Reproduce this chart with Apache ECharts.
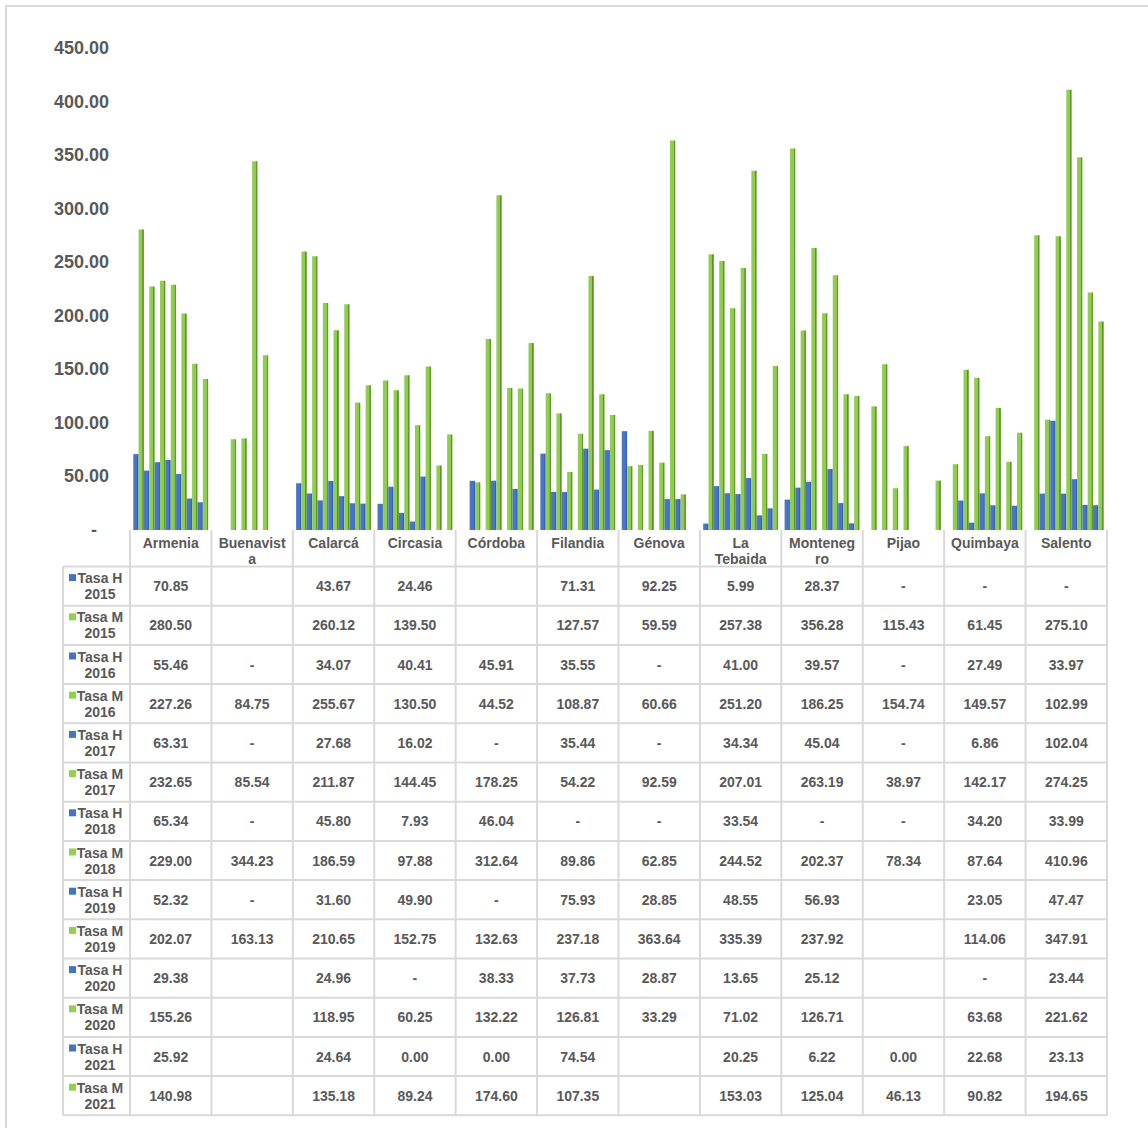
<!DOCTYPE html>
<html>
<head>
<meta charset="utf-8">
<script src="https://cdn.jsdelivr.net/npm/echarts@6/dist/echarts.min.js"></script>
<style>
  html, body { margin: 0; padding: 0; background: #fff; }
  #chart { width: 1148px; height: 1128px; }
</style>
</head>
<body>
<div id="chart"></div>
<script>
// municipios (eje x) y etiquetas tal como se cortan en la tabla
var municipios = ['Armenia', 'Buenavista', 'Calarcá', 'Circasia', 'Córdoba', 'Filandia', 'Génova', 'La Tebaida', 'Montenegro', 'Pijao', 'Quimbaya', 'Salento'];
var etiquetasTabla = ['Armenia', 'Buenavist\na', 'Calarcá', 'Circasia', 'Córdoba', 'Filandia', 'Génova', 'La\nTebaida', 'Monteneg\nro', 'Pijao', 'Quimbaya', 'Salento'];

// null = celda vacía, '-' = guion en la tabla
var tasaH2015 = [70.85, null, 43.67, 24.46, null, 71.31, 92.25, 5.99, 28.37, '-', '-', '-'];
var tasaM2015 = [280.50, null, 260.12, 139.50, null, 127.57, 59.59, 257.38, 356.28, 115.43, 61.45, 275.10];
var tasaH2016 = [55.46, '-', 34.07, 40.41, 45.91, 35.55, '-', 41.00, 39.57, '-', 27.49, 33.97];
var tasaM2016 = [227.26, 84.75, 255.67, 130.50, 44.52, 108.87, 60.66, 251.20, 186.25, 154.74, 149.57, 102.99];
var tasaH2017 = [63.31, '-', 27.68, 16.02, '-', 35.44, '-', 34.34, 45.04, '-', 6.86, 102.04];
var tasaM2017 = [232.65, 85.54, 211.87, 144.45, 178.25, 54.22, 92.59, 207.01, 263.19, 38.97, 142.17, 274.25];
var tasaH2018 = [65.34, '-', 45.80, 7.93, 46.04, '-', '-', 33.54, '-', '-', 34.20, 33.99];
var tasaM2018 = [229.00, 344.23, 186.59, 97.88, 312.64, 89.86, 62.85, 244.52, 202.37, 78.34, 87.64, 410.96];
var tasaH2019 = [52.32, '-', 31.60, 49.90, '-', 75.93, 28.85, 48.55, 56.93, null, 23.05, 47.47];
var tasaM2019 = [202.07, 163.13, 210.65, 152.75, 132.63, 237.18, 363.64, 335.39, 237.92, null, 114.06, 347.91];
var tasaH2020 = [29.38, null, 24.96, '-', 38.33, 37.73, 28.87, 13.65, 25.12, null, '-', 23.44];
var tasaM2020 = [155.26, null, 118.95, 60.25, 132.22, 126.81, 33.29, 71.02, 126.71, null, 63.68, 221.62];
var tasaH2021 = [25.92, null, 24.64, 0.00, 0.00, 74.54, null, 20.25, 6.22, 0.00, 22.68, 23.13];
var tasaM2021 = [140.98, null, 135.18, 89.24, 174.60, 107.35, null, 153.03, 125.04, 46.13, 90.82, 194.65];

var filas = [
  ['Tasa H 2015', 'H', tasaH2015], ['Tasa M 2015', 'M', tasaM2015],
  ['Tasa H 2016', 'H', tasaH2016], ['Tasa M 2016', 'M', tasaM2016],
  ['Tasa H 2017', 'H', tasaH2017], ['Tasa M 2017', 'M', tasaM2017],
  ['Tasa H 2018', 'H', tasaH2018], ['Tasa M 2018', 'M', tasaM2018],
  ['Tasa H 2019', 'H', tasaH2019], ['Tasa M 2019', 'M', tasaM2019],
  ['Tasa H 2020', 'H', tasaH2020], ['Tasa M 2020', 'M', tasaM2020],
  ['Tasa H 2021', 'H', tasaH2021], ['Tasa M 2021', 'M', tasaM2021]
];

var AZUL = '#4472c4';
var VERDE = '#92d050';
var GRIS = '#595959';
var LINEA = '#d9d9d9';
var FUENTE = '"Liberation Sans", Arial, sans-serif';

var chart = echarts.init(document.getElementById('chart'), null, { renderer: 'svg' });

function relleno(sexo) {
  if (sexo === 'H') {
    return new echarts.graphic.LinearGradient(0, 0, 1, 0, [
      { offset: 0, color: '#4a78cc' }, { offset: 0.74, color: '#4472c4' },
      { offset: 0.78, color: '#3a62a8' }, { offset: 1, color: '#3a62a8' }
    ]);
  }
  return new echarts.graphic.LinearGradient(0, 0, 1, 0, [
    { offset: 0, color: '#92d050' }, { offset: 0.7, color: '#8ccb4c' },
    { offset: 0.74, color: '#5f8f31' }, { offset: 1, color: '#6b9c3a' }
  ]);
}

var series = filas.map(function (f) {
  return {
    name: f[0],
    type: 'bar',
    barGap: '0%',
    barCategoryGap: '8%',
    itemStyle: { color: relleno(f[1]) },
    data: f[2]
  };
});

var option = {
  backgroundColor: '#fff',
  animation: false,
  grid: { left: 130, right: 41, top: 48, bottom: 598, containLabel: false },
  xAxis: {
    type: 'category',
    data: municipios,
    axisLine: { show: false },
    axisTick: { show: false },
    axisLabel: { show: false }
  },
  yAxis: {
    type: 'value',
    min: 0,
    max: 450,
    interval: 50,
    splitLine: { show: false },
    axisLine: { show: false },
    axisTick: { show: false },
    axisLabel: {
      margin: 21,
      color: GRIS,
      fontSize: 18,
      fontWeight: 'bold',
      fontFamily: FUENTE,
      formatter: function (v) { return v === 0 ? '{d|-}' : v.toFixed(2); },
      rich: { d: { padding: [0, 12, 0, 0], fontSize: 18, fontWeight: 'bold', color: GRIS, fontFamily: FUENTE } }
    }
  },
  series: series
};

chart.setOption(option);

// tabla de datos bajo el gráfico
var c0 = chart.convertToPixel({ xAxisIndex: 0 }, municipios[0]);
var c1 = chart.convertToPixel({ xAxisIndex: 0 }, municipios[1]);
var anchoCol = c1 - c0;
var y0 = chart.convertToPixel({ yAxisIndex: 0 }, 0);
var izqTabla = 63;
var topFilas = 566.5;
var altoFila = 39.2;
var finTabla = topFilas + altoFila * filas.length;
var derTabla = c0 - anchoCol / 2 + anchoCol * municipios.length;

function texto(t, x, y, extra) {
  var st = {
    text: t, x: x, y: y, fill: GRIS, fontSize: 14, fontWeight: 'bold',
    fontFamily: FUENTE, align: 'center', verticalAlign: 'middle', lineHeight: 16
  };
  for (var k in extra) st[k] = extra[k];
  return { type: 'text', silent: true, style: st };
}
function linea(x1, y1, x2, y2) {
  return { type: 'line', silent: true, shape: { x1: x1, y1: y1, x2: x2, y2: y2 }, style: { stroke: LINEA, lineWidth: 2 } };
}

var graficos = [];
graficos.push({ type: 'rect', silent: true, shape: { x: 6, y: 6, width: 1160, height: 1140 }, style: { fill: null, stroke: LINEA, lineWidth: 2 } });

for (var i = 0; i <= filas.length; i++) {
  graficos.push(linea(izqTabla, topFilas + i * altoFila, derTabla, topFilas + i * altoFila));
}
graficos.push(linea(izqTabla, topFilas, izqTabla, finTabla));
for (var j = 0; j <= municipios.length; j++) {
  var xs = c0 - anchoCol / 2 + j * anchoCol;
  graficos.push(linea(xs, y0, xs, finTabla));
}

municipios.forEach(function (m, j) {
  var cx = chart.convertToPixel({ xAxisIndex: 0 }, m);
  graficos.push(texto(etiquetasTabla[j], cx, y0 + 5, { verticalAlign: 'top' }));
});

filas.forEach(function (f, i) {
  var yc = topFilas + i * altoFila + altoFila / 2;
  var partes = f[0].split(' ');
  graficos.push({ type: 'rect', silent: true, shape: { x: 69, y: yc - 12, width: 7, height: 7 }, style: { fill: f[1] === 'H' ? AZUL : VERDE } });
  graficos.push(texto(partes[0] + ' ' + partes[1] + '\n' + partes[2], 100, yc));
  f[2].forEach(function (v, j) {
    if (v === null) return;
    var cx = chart.convertToPixel({ xAxisIndex: 0 }, municipios[j]);
    graficos.push(texto(v === '-' ? '-' : v.toFixed(2), cx, yc));
  });
});

chart.setOption({ graphic: { elements: graficos } });
</script>
</body>
</html>
